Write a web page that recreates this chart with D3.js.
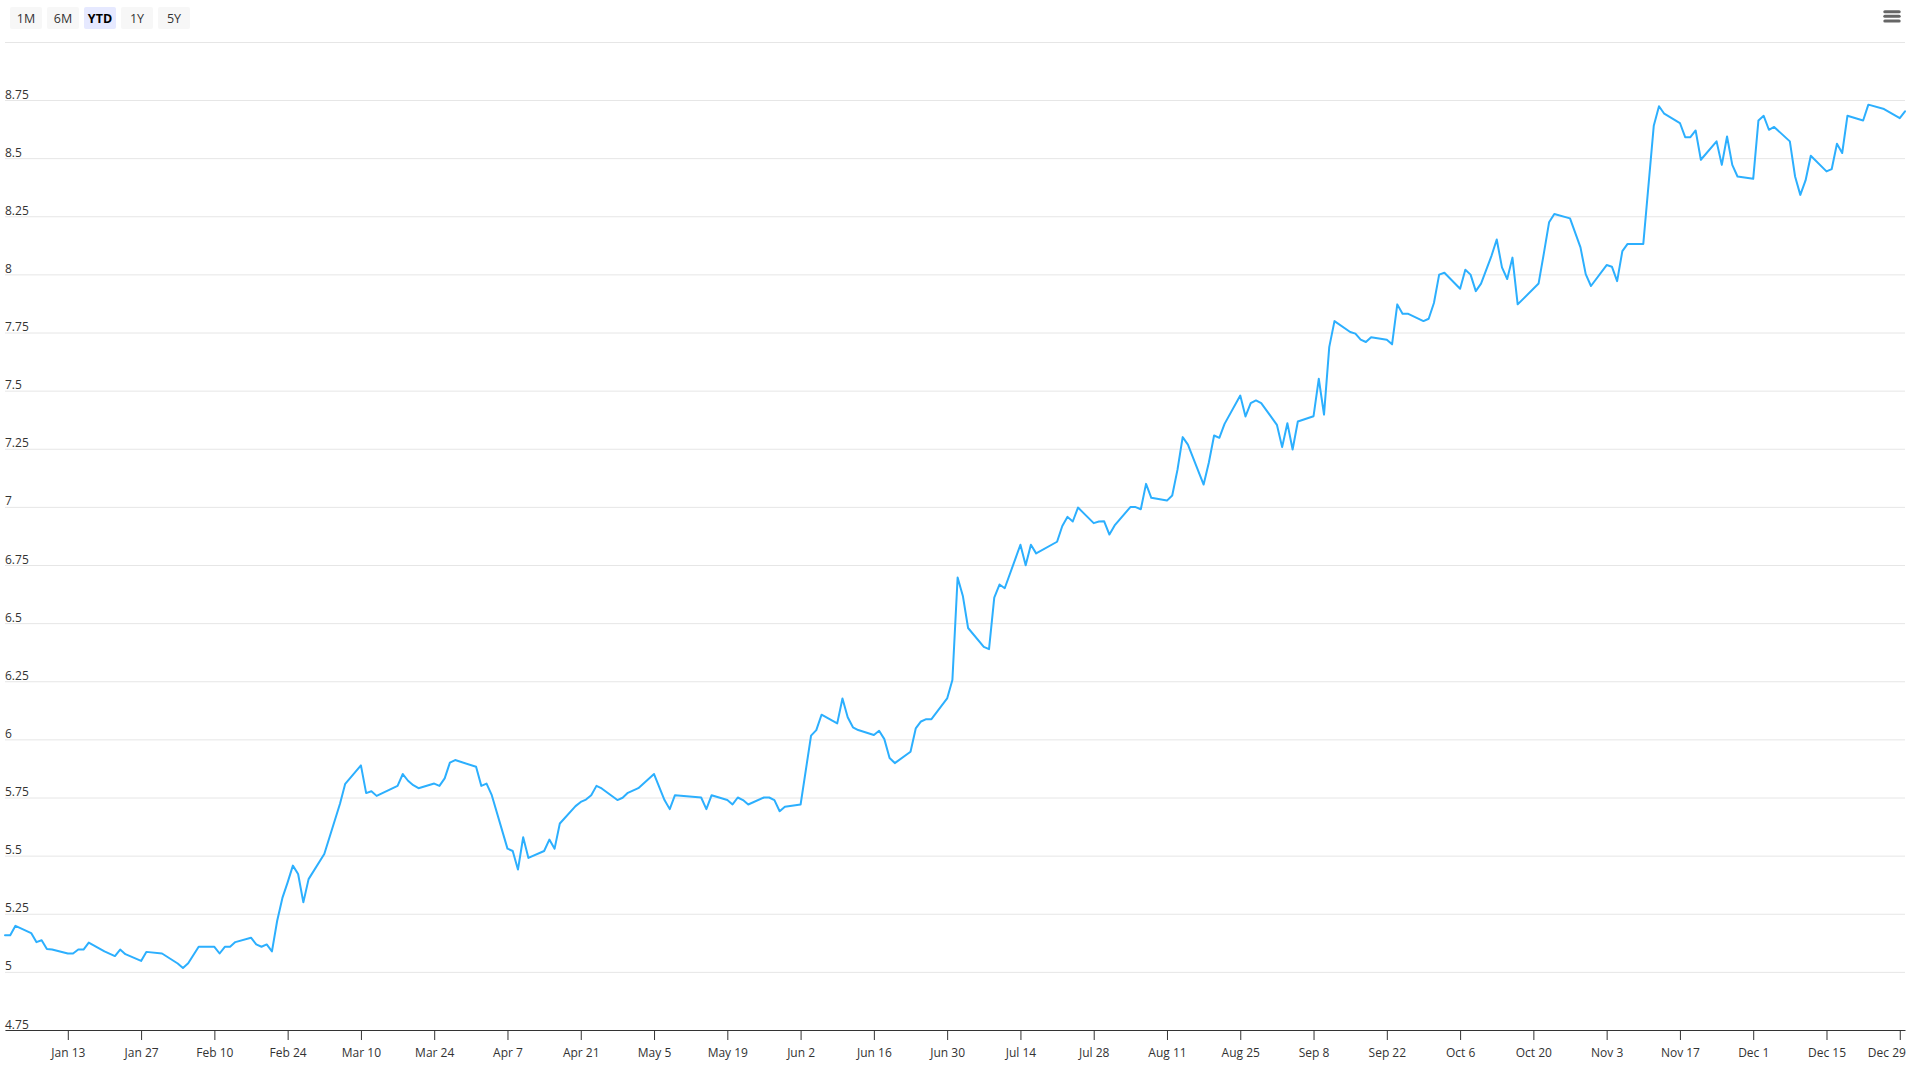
<!DOCTYPE html>
<html><head><meta charset="utf-8">
<script src="https://cdn.jsdelivr.net/npm/d3@7"></script>
<style>
html,body{margin:0;padding:0;background:#fff;overflow:hidden}
svg{display:block;font-family:"Segoe UI","Open Sans",sans-serif}
</style>
</head><body>
<svg id="chart" width="1912" height="1071"></svg>
<script>
// ---------------- data ----------------
const YEAR = 2025;
const dates = [
"01-01","01-02","01-03","01-06","01-07","01-08","01-09","01-10","01-13","01-14","01-15","01-16","01-17",
"01-20","01-22","01-23","01-24","01-27","01-28","01-31","02-03","02-04","02-05","02-07","02-10","02-11",
"02-12","02-13","02-14","02-17","02-18","02-19","02-20","02-21","02-22","02-23","02-24","02-25","02-26",
"02-27","02-28","03-03","03-05","03-06","03-07","03-10","03-11","03-12","03-13","03-17","03-18","03-19",
"03-20","03-21","03-24","03-25","03-26","03-27","03-28","04-01","04-02","04-03","04-04","04-07","04-08",
"04-09","04-10","04-11","04-14","04-15","04-16","04-17","04-20","04-21","04-22","04-23","04-24","04-25",
"04-28","04-29","04-30","05-02","05-05","05-07","05-08","05-09","05-14","05-15","05-16","05-19","05-20",
"05-21","05-22","05-23","05-26","05-27","05-28","05-29","05-30","06-02","06-04","06-05","06-06","06-09",
"06-10","06-11","06-12","06-13","06-16","06-17","06-18","06-19","06-20","06-23","06-24","06-25","06-26",
"06-27","06-30","07-01","07-02","07-03","07-04","07-07","07-08","07-09","07-10","07-11","07-14","07-15",
"07-16","07-17","07-21","07-22","07-23","07-24","07-25","07-28","07-29","07-30","07-31","08-01","08-04",
"08-05","08-06","08-07","08-08","08-11","08-12","08-13","08-14","08-15","08-18","08-19","08-20","08-21",
"08-22","08-25","08-26","08-27","08-28","08-29","09-01","09-02","09-03","09-04","09-05","09-08","09-09",
"09-10","09-11","09-12","09-15","09-16","09-17","09-18","09-19","09-22","09-23","09-24","09-25","09-26",
"09-29","09-30","10-01","10-02","10-03","10-06","10-07","10-08","10-09","10-10","10-12","10-13","10-14",
"10-15","10-16","10-17","10-21","10-22","10-23","10-24","10-27","10-29","10-30","10-31","11-03","11-04",
"11-05","11-06","11-07","11-10","11-12","11-13","11-14","11-17","11-18","11-19","11-20","11-21","11-24",
"11-25","11-26","11-27","11-28","12-01","12-02","12-03","12-04","12-05","12-08","12-09","12-10","12-11",
"12-12","12-15","12-16","12-17","12-18","12-19","12-22","12-23","12-26","12-29","12-30"
];
const values = [
5.158,5.158,5.198,5.167,5.128,5.136,5.098,5.096,5.079,5.079,5.096,5.096,5.126,
5.088,5.068,5.096,5.076,5.047,5.086,5.079,5.036,5.017,5.037,5.108,5.108,5.079,
5.108,5.108,5.128,5.147,5.118,5.108,5.118,5.088,5.22,5.318,5.385,5.457,5.421,
5.299,5.399,5.507,5.651,5.723,5.809,5.888,5.769,5.777,5.757,5.800,5.851,5.822,
5.803,5.79,5.81,5.80,5.832,5.90,5.911,5.882,5.80,5.81,5.76,5.53,5.52,
5.44,5.579,5.49,5.52,5.569,5.53,5.638,5.713,5.731,5.741,5.76,5.80,5.789,
5.739,5.749,5.77,5.79,5.851,5.739,5.70,5.76,5.75,5.70,5.76,5.739,5.72,
5.75,5.739,5.72,5.75,5.75,5.739,5.691,5.71,5.72,6.016,6.04,6.106,6.069,
6.176,6.095,6.052,6.04,6.019,6.037,6.001,5.92,5.898,5.947,6.047,6.077,6.087,
6.087,6.176,6.255,6.696,6.617,6.479,6.398,6.388,6.61,6.666,6.65,6.837,6.749,
6.837,6.80,6.85,6.918,6.957,6.937,6.997,6.93,6.937,6.938,6.881,6.92,6.999,
6.999,6.99,7.099,7.039,7.027,7.049,7.159,7.30,7.268,7.096,7.191,7.307,7.297,
7.357,7.479,7.389,7.446,7.458,7.446,7.353,7.257,7.36,7.247,7.367,7.39,7.551,
7.397,7.687,7.799,7.752,7.745,7.719,7.709,7.73,7.719,7.699,7.871,7.831,7.831,
7.799,7.809,7.877,7.999,8.007,7.938,8.02,7.999,7.928,7.96,8.08,8.15,8.03,
7.98,8.072,7.871,7.961,8.09,8.224,8.26,8.241,8.116,8.001,7.95,8.04,8.033,
7.971,8.1,8.131,8.131,8.639,8.723,8.691,8.651,8.59,8.59,8.619,8.493,8.572,
8.471,8.593,8.471,8.421,8.411,8.662,8.682,8.622,8.634,8.572,8.421,8.342,8.404,
8.51,8.443,8.453,8.562,8.522,8.682,8.662,8.73,8.711,8.672,8.701
];
const yTicks = [4.75,5,5.25,5.5,5.75,6,6.25,6.5,6.75,7,7.25,7.5,7.75,8,8.25,8.5,8.75];
const xTickDates = ["01-13","01-27","02-10","02-24","03-10","03-24","04-07","04-21","05-05","05-19",
  "06-02","06-16","06-30","07-14","07-28","08-11","08-25","09-08","09-22","10-06","10-20","11-03",
  "11-17","12-01","12-15","12-29"];
const xDomain = ["01-01","12-30"];
const yDomain = [4.75, 8.75];
const rangeButtons = ["1M","6M","YTD","1Y","5Y"];
const selectedButton = "YTD";

// ---------------- drawing ----------------
const parse = s => d3.timeParse("%Y-%m-%d")(YEAR + "-" + s);
const series = dates.map((d,i) => ({date: parse(d), value: values[i]}));
const plot = {left:5, right:1905, top:100, bottom:1030};

const svg = d3.select("#chart");
const x = d3.scaleTime().domain(xDomain.map(parse)).range([plot.left, plot.right]);
const y = d3.scaleLinear().domain(yDomain).range([plot.bottom, plot.top]);

// range selector buttons
const btnG = svg.append("g").attr("transform","translate(10,7)");
rangeButtons.forEach((b,i) => {
  const sel = b === selectedButton;
  const g = btnG.append("g").attr("transform",`translate(${i*37},0)`);
  g.append("rect").attr("width",32).attr("height",22).attr("rx",2)
    .attr("fill", sel ? "#e6e9ff" : "#f7f7f7");
  g.append("text").attr("x",16).attr("y",16).attr("text-anchor","middle")
    .attr("font-size",12.5).attr("fill", sel ? "#000" : "#333")
    .attr("font-weight", sel ? "bold" : "normal").text(b);
});

// divider
svg.append("line").attr("x1",5).attr("x2",1905).attr("y1",42.5).attr("y2",42.5)
  .attr("stroke","#e6e6e6").attr("stroke-width",1);

// hamburger menu
[11.7,16.3,21].forEach(yy => {
  svg.append("line").attr("x1",1884.8).attr("x2",1899.2).attr("y1",yy).attr("y2",yy)
    .attr("stroke","#666").attr("stroke-width",3).attr("stroke-linecap","round");
});

// y grid + labels
const yAxis = d3.axisRight(y).tickValues(yTicks).tickSize(plot.right - plot.left)
  .tickFormat(d => String(d));
const yg = svg.append("g").attr("transform",`translate(${plot.left},0)`).call(yAxis);
yg.select(".domain").remove();
yg.selectAll(".tick line").attr("stroke","#e6e6e6").attr("stroke-width",1);
yg.selectAll(".tick text").attr("x",0).attr("y",-2).attr("dy",0)
  .attr("text-anchor","start").attr("fill","#333").attr("font-size",12)
  .attr("font-family",'"Segoe UI","Open Sans",sans-serif');

// line
const line = d3.line().x(d => x(d.date)).y(d => y(d.value));
svg.append("path").datum(series).attr("d", line).attr("fill","none")
  .attr("stroke","#2caffe").attr("stroke-width",2).attr("stroke-linejoin","round")
  .attr("stroke-linecap","round");

// x axis
const xAxis = d3.axisBottom(x).tickValues(xTickDates.map(parse)).tickSize(10).tickSizeOuter(0)
  .tickFormat(d3.timeFormat("%b %-d"));
const xg = svg.append("g").attr("transform",`translate(0,${plot.bottom})`).call(xAxis);
xg.select(".domain").attr("stroke","#333").attr("stroke-width",1);
xg.selectAll(".tick line").attr("stroke","#333");
xg.selectAll(".tick text").attr("y",27).attr("dy",0).attr("fill","#333").attr("font-size",12)
  .attr("font-family",'"Segoe UI","Open Sans",sans-serif');
// keep last label inside the chart
xg.selectAll(".tick text").each(function(){
  const bb = this.getBBox();
  const tr = this.parentNode.transform.baseVal.consolidate().matrix.e;
  const right = tr + bb.x + bb.width;
  if (right > 1906) d3.select(this).attr("x", 1906 - right);
});
</script>
</body></html>
